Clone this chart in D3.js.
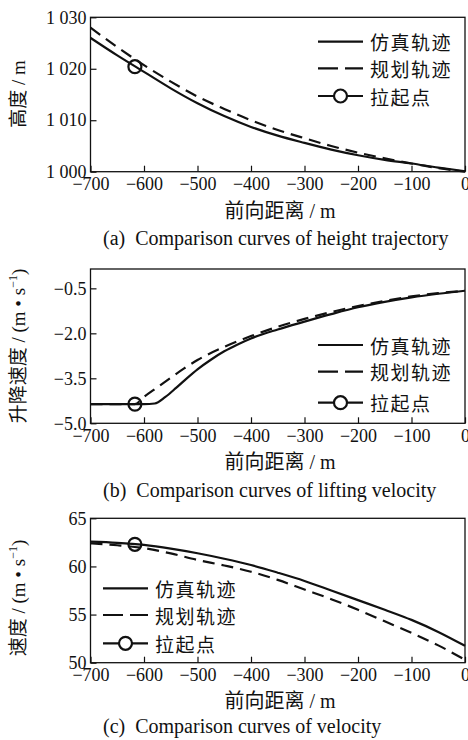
<!DOCTYPE html>
<html>
<head>
<meta charset="utf-8">
<script src="https://cdn.jsdelivr.net/npm/d3@7"></script>
<style>
body{margin:0;background:#fff;}
svg{display:block;}
</style>
</head>
<body>
<div id="chart"></div>
<script>
// forward distance (m)
const distance = [-700,-650,-600,-550,-500,-450,-400,-350,-300,-250,-200,-150,-100,-50,0];
const distanceTicks = [-700,-600,-500,-400,-300,-200,-100,0];

// (a) height
const heightSim  = [1026.0,1022.6,1019.4,1016.2,1013.3,1010.8,1008.7,1007.0,1005.6,1004.3,1003.2,1002.3,1001.6,1000.8,1000.1];
const heightPlan = [1028.0,1024.2,1020.7,1017.5,1014.6,1012.2,1010.0,1008.1,1006.5,1005.0,1003.7,1002.6,1001.6,1000.7,1000.0];
const heightTicks = [1000,1010,1020,1030];
const heightTickLabels = ["1 000","1 010","1 020","1 030"];

// (b) lifting velocity
const liftSimDistance = [-700,-650,-600,-580,-560,-540,-520,-500,-475,-450,-425,-400,-350,-300,-250,-200,-150,-100,-50,0];
const liftSim = [-4.36,-4.36,-4.36,-4.34,-4.12,-3.82,-3.50,-3.20,-2.88,-2.60,-2.37,-2.17,-1.87,-1.61,-1.36,-1.13,-0.95,-0.80,-0.68,-0.58];
const liftPlanDistance = [-700,-650,-617,-600,-575,-550,-525,-500,-450,-400,-350,-300,-250,-200,-150,-100,-50,0];
const liftPlan = [-4.36,-4.36,-4.36,-4.12,-3.80,-3.48,-3.17,-2.89,-2.45,-2.09,-1.78,-1.52,-1.29,-1.09,-0.92,-0.77,-0.66,-0.58];
const liftTicks = [-5.0,-3.5,-2.0,-0.5];

// (c) velocity
const speedSim  = [62.57,62.45,62.23,61.85,61.37,60.80,60.15,59.35,58.49,57.50,56.50,55.50,54.45,53.20,51.75];
const speedPlan = [62.40,62.20,61.90,61.35,60.67,60.10,59.45,58.60,57.60,56.60,55.50,54.30,53.10,51.80,50.30];
const speedTicks = [50,55,60,65];

// pull-up point
const pullUpDistance = -617;
const pullUpHeight = 1020.4;
const pullUpLift = -4.36;
const pullUpSpeed = 62.3;

const legendLabels = ["仿真轨迹","规划轨迹","拉起点"];

const W = 468, H = 740;
const serif = "'Liberation Serif','Times New Roman',serif";
const cjk = "'Noto Sans CJK SC','Noto Sans',sans-serif";

const svg = d3.select("#chart").append("svg")
    .attr("width", W).attr("height", H)
    .attr("viewBox", `0 0 ${W} ${H}`);

function drawPanel(p){
    const x = d3.scaleLinear().domain([-700, 0]).range([90.5, 465]);
    const y = d3.scaleLinear().domain(p.yDomain).range([p.bottom, p.top]);
    const g = svg.append("g");

    // x axis
    const xa = g.append("g")
        .attr("transform", `translate(0,${p.bottom})`)
        .call(d3.axisBottom(x).tickValues(distanceTicks).tickSize(-6).tickPadding(6)
            .tickFormat(d => d === 0 ? "0" : "\u2212" + Math.abs(d)));
    xa.select(".domain").remove();

    // y axis
    const ya = g.append("g")
        .attr("transform", `translate(${x.range()[0]},0)`)
        .call(d3.axisLeft(y).tickValues(p.yTicks).tickSize(-6).tickPadding(4)
            .tickFormat(p.yFormat));
    ya.select(".domain").remove();

    g.selectAll(".tick line").attr("stroke", "#111").attr("stroke-width", 1.2);
    g.selectAll(".tick text")
        .attr("fill", "#111")
        .style("font-family", serif)
        .style("font-size", "18px");

    // frame
    g.append("rect")
        .attr("x", x.range()[0]).attr("y", p.top)
        .attr("width", x.range()[1] - x.range()[0])
        .attr("height", p.bottom - p.top)
        .attr("fill", "none").attr("stroke", "#111").attr("stroke-width", 1.3);

    const line = d3.line()
        .x(d => x(d[0])).y(d => y(d[1]))
        .curve(d3.curveMonotoneX);

    g.append("path")
        .attr("d", line(d3.zip(p.simX, p.sim)))
        .attr("fill", "none").attr("stroke", "#111").attr("stroke-width", 2.2);
    g.append("path")
        .attr("d", line(d3.zip(p.planX, p.plan)))
        .attr("fill", "none").attr("stroke", "#111").attr("stroke-width", 2.2)
        .attr("stroke-dasharray", "12,7");

    g.append("circle")
        .attr("cx", x(pullUpDistance)).attr("cy", y(p.pullUp))
        .attr("r", 6.5).attr("fill", "none")
        .attr("stroke", "#111").attr("stroke-width", 2.2);

    // legend
    const lg = g.append("g");
    p.legendY.forEach((ly, i) => {
        const l = lg.append("line")
            .attr("x1", p.legendX).attr("x2", p.legendX + 45)
            .attr("y1", ly).attr("y2", ly)
            .attr("stroke", "#111").attr("stroke-width", 2.2);
        if (i === 1) l.attr("stroke-dasharray", "20,7");
        if (i === 2) lg.append("circle")
            .attr("cx", p.legendX + 22.5).attr("cy", ly).attr("r", 6.5)
            .attr("fill", "#fff").attr("stroke", "#111").attr("stroke-width", 2.2);
        lg.append("text")
            .attr("x", p.legendX + 52).attr("y", ly)
            .attr("dominant-baseline", "central")
            .style("font-family", cjk).style("font-size", "19px")
            .attr("letter-spacing", 1.5)
            .attr("fill", "#111")
            .text(legendLabels[i]);
    });

    // x title
    const xt = g.append("text")
        .attr("x", 280).attr("y", p.xTitleY)
        .attr("text-anchor", "middle").attr("fill", "#111").style("font-size", "20px");
    xt.append("tspan").style("font-family", cjk).text("前向距离");
    xt.append("tspan").style("font-family", serif).text(" / m");

    // y title
    const yt = g.append("text")
        .attr("transform", `translate(25,${p.yTitleY}) rotate(-90)`)
        .attr("text-anchor", "middle").attr("fill", "#111").style("font-size", "19px");
    yt.append("tspan").style("font-family", cjk).text(p.yTitle);
    if (p.yUnit) {
        yt.append("tspan").style("font-family", serif).text(" / (m \u2022 s");
        yt.append("tspan").style("font-family", serif).style("font-size", "12px")
            .attr("dy", -8).text("\u22121");
        yt.append("tspan").style("font-family", serif).attr("dy", 8).text(")");
    } else {
        yt.append("tspan").style("font-family", serif).text(" / m");
    }

    // caption
    g.append("text")
        .attr("x", 103).attr("y", p.captionY)
        .style("font-family", serif).style("font-size", "20px").attr("fill", "#111")
        .attr("xml:space", "preserve")
        .text(p.caption);
}

drawPanel({
    top: 17.3, bottom: 171.7, yDomain: [1000, 1030],
    yTicks: heightTicks, yFormat: d => heightTickLabels[heightTicks.indexOf(d)],
    simX: distance, sim: heightSim, planX: distance, plan: heightPlan, pullUp: pullUpHeight,
    legendX: 318, legendY: [41.7, 68.3, 96],
    xTitleY: 218, yTitle: "高度", yTitleY: 94, captionY: 245,
    caption: "(a)  Comparison curves of height trajectory"
});

drawPanel({
    top: 269, bottom: 423.3, yDomain: [-5, 0.145],
    yTicks: liftTicks, yFormat: d => (d < 0 ? "\u2212" : "") + Math.abs(d).toFixed(1),
    simX: liftSimDistance, sim: liftSim, planX: liftPlanDistance, plan: liftPlan, pullUp: pullUpLift,
    legendX: 318, legendY: [345, 371.7, 402.7],
    xTitleY: 468.5, yTitle: "升降速度", yUnit: true, yTitleY: 346, captionY: 497,
    caption: "(b)  Comparison curves of lifting velocity"
});

drawPanel({
    top: 518.3, bottom: 662.7, yDomain: [50, 65],
    yTicks: speedTicks, yFormat: d3.format("d"),
    simX: distance, sim: speedSim, planX: distance, plan: speedPlan, pullUp: pullUpSpeed,
    legendX: 103, legendY: [588.3, 615, 643.3],
    xTitleY: 708, yTitle: "速度", yUnit: true, yTitleY: 598, captionY: 733,
    caption: "(c)  Comparison curves of velocity"
});
</script>
</body>
</html>
